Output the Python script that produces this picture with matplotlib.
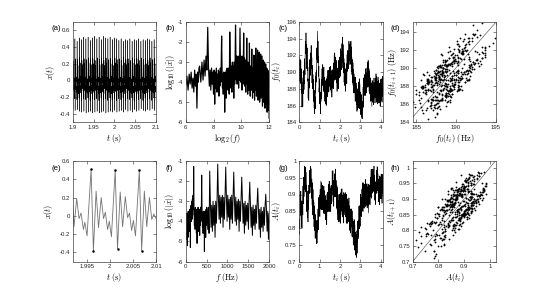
import numpy as np
import matplotlib
matplotlib.use('Agg')
import matplotlib.pyplot as plt
from matplotlib.ticker import FuncFormatter

plt.rcParams['mathtext.fontset'] = 'cm'
plt.rcParams['font.family'] = ['Liberation Sans', 'DejaVu Sans']

# ---------------- data ----------------
# (a) waveform extrema, 38 glottal cycles between 1.9 s and 2.1 s
a_tlim = [1.9, 2.1]
a_x = [
0.48,-0.34,0.24,-0.12,0.19,-0.03,0.03,-0.15,-0.06,-0.22,
0.50,-0.36,0.26,-0.11,0.20,-0.02,0.04,-0.14,-0.07,-0.23,
0.47,-0.35,0.25,-0.13,0.18,-0.04,0.02,-0.16,-0.05,-0.21,
0.51,-0.37,0.27,-0.12,0.21,-0.03,0.05,-0.15,-0.06,-0.24,
0.49,-0.38,0.24,-0.10,0.19,-0.01,0.03,-0.13,-0.08,-0.22,
0.52,-0.37,0.26,-0.12,0.20,-0.03,0.04,-0.16,-0.06,-0.23,
0.50,-0.39,0.25,-0.14,0.18,-0.05,0.02,-0.15,-0.05,-0.21,
0.52,-0.38,0.27,-0.11,0.21,-0.02,0.05,-0.14,-0.07,-0.24,
0.48,-0.37,0.25,-0.12,0.19,-0.03,0.03,-0.16,-0.06,-0.22,
0.51,-0.39,0.26,-0.13,0.20,-0.04,0.04,-0.15,-0.05,-0.23,
0.53,-0.38,0.24,-0.12,0.18,-0.03,0.02,-0.14,-0.06,-0.22,
0.50,-0.37,0.27,-0.11,0.21,-0.02,0.04,-0.16,-0.07,-0.24,
0.52,-0.39,0.25,-0.13,0.19,-0.04,0.03,-0.15,-0.05,-0.21,
0.49,-0.38,0.26,-0.12,0.20,-0.03,0.05,-0.14,-0.06,-0.23,
0.53,-0.37,0.24,-0.10,0.18,-0.01,0.03,-0.16,-0.08,-0.22,
0.51,-0.39,0.27,-0.12,0.21,-0.03,0.04,-0.15,-0.06,-0.24,
0.50,-0.38,0.25,-0.14,0.19,-0.05,0.02,-0.14,-0.05,-0.21,
0.52,-0.37,0.26,-0.11,0.20,-0.02,0.05,-0.16,-0.07,-0.23,
0.49,-0.38,0.24,-0.12,0.18,-0.03,0.03,-0.15,-0.06,-0.22,
0.51,-0.36,0.27,-0.13,0.21,-0.04,0.04,-0.14,-0.05,-0.24,
0.50,-0.38,0.25,-0.12,0.19,-0.03,0.02,-0.16,-0.06,-0.22,
0.48,-0.37,0.26,-0.11,0.20,-0.02,0.04,-0.15,-0.07,-0.23,
0.50,-0.36,0.24,-0.13,0.18,-0.04,0.03,-0.14,-0.05,-0.21,
0.47,-0.38,0.27,-0.12,0.21,-0.03,0.05,-0.16,-0.06,-0.24,
0.49,-0.35,0.25,-0.10,0.19,-0.01,0.03,-0.15,-0.08,-0.22,
0.48,-0.37,0.26,-0.12,0.20,-0.03,0.04,-0.14,-0.06,-0.23,
0.50,-0.36,0.24,-0.14,0.18,-0.05,0.02,-0.16,-0.05,-0.21,
0.47,-0.38,0.27,-0.11,0.21,-0.02,0.05,-0.15,-0.07,-0.24,
0.49,-0.35,0.25,-0.12,0.19,-0.03,0.03,-0.14,-0.06,-0.22,
0.48,-0.37,0.26,-0.13,0.20,-0.04,0.04,-0.16,-0.05,-0.23,
0.50,-0.36,0.24,-0.12,0.18,-0.03,0.02,-0.15,-0.06,-0.22,
0.47,-0.34,0.27,-0.11,0.21,-0.02,0.04,-0.14,-0.07,-0.24,
0.49,-0.36,0.25,-0.13,0.19,-0.04,0.03,-0.16,-0.05,-0.21,
0.48,-0.37,0.26,-0.12,0.20,-0.03,0.05,-0.15,-0.06,-0.23,
0.50,-0.35,0.24,-0.10,0.18,-0.01,0.03,-0.14,-0.08,-0.22,
0.49,-0.36,0.27,-0.12,0.21,-0.03,0.04,-0.16,-0.06,-0.24,
0.47,-0.34,0.25,-0.14,0.19,-0.05,0.02,-0.15,-0.05,-0.21,
0.49,-0.36,0.26,-0.11,0.20,-0.02,0.05,-0.14,-0.07,-0.23,
]

# (e) zoomed waveform (time in s, amplitude)
e_t = [1.99200,1.99228,1.99286,1.99337,1.99380,1.99431,1.99462,1.99510,
       1.99597,1.99647,1.99705,1.99757,1.99815,1.99865,1.99905,1.99952,1.99990,2.00035,
       2.00117,2.00167,2.00225,2.00277,2.00335,2.00385,2.00425,2.00472,2.00510,2.00555,
       2.00638,2.00688,2.00746,2.00798,2.00856,2.00906,2.00950,2.01000]
e_x = [0.12,-0.12,0.19,-0.03,0.03,-0.15,-0.07,-0.22,
       0.51,-0.38,0.27,-0.13,0.20,-0.03,0.04,-0.15,-0.06,-0.23,
       0.50,-0.36,0.26,-0.12,0.21,-0.02,0.03,-0.16,-0.05,-0.22,
       0.50,-0.38,0.27,-0.12,0.20,-0.04,0.02,-0.03]
e_marked = [8, 9, 18, 19, 28, 29]   # cycle maxima / minima

# spectrum: frequency grid sections (start, stop, step in Hz) and log10|x^| values
spec_sections = [(4, 124, 4), (128, 504, 8), (512, 2032, 16), (2048, 4096, 64)]
spec_db_1 = [-3.9,-4.6,-3.6,-4.4,-3.8,-4.9,-3.7,-4.3,-3.9,-5.2,-3.6,-4.5,-3.8,-4.8,-3.5,-4.2,
             -3.7,-4.4,-3.6,-4.1,-3.5,-4.3,-3.8,-4.5,-3.4,-4.2,-3.6,-5.3,-3.5,-4.0,-3.3]
spec_db_2 = [-3.2,-4.0,-3.0,-3.9,-2.9,-3.7,-2.7,-3.4,-1.27,-3.3,-4.2,-3.4,-4.4,-3.3,-4.1,-3.5,
             -4.6,-3.4,-5.1,-3.5,-4.3,-3.3,-4.5,-3.6,-4.2,-3.4,-4.7,-3.5,-4.2,-3.3,-4.0,-3.1,
             -1.7,-3.3,-4.3,-3.6,-4.6,-3.5,-4.4,-3.7,-5.5,-3.5,-4.3,-3.6,-4.8,-3.4,-4.2,-3.3]
spec_db_3 = [-3.4,-4.4,-3.3,-4.6,-1.5,-3.1,-4.3,-3.2,-4.5,-3.0,-4.2,-3.2,-4.8,-3.0,-4.1,-2.9,
             -1.15,-2.8,-3.9,-2.7,-4.1,-2.8,-3.8,-2.7,-4.3,-2.8,-3.9,-2.7,-1.3,-2.8,-4.0,-2.7,
             -3.8,-2.9,-4.4,-2.8,-3.9,-2.7,-4.1,-2.8,-1.55,-2.9,-4.0,-2.8,-4.2,-3.0,-3.9,-2.9,
             -4.5,-3.0,-4.0,-2.9,-1.8,-3.0,-4.1,-3.1,-4.6,-3.0,-4.2,-3.2,-4.0,-3.1,-4.4,-3.0,
             -2.05,-3.2,-4.3,-3.3,-4.7,-3.2,-4.2,-3.4,-4.4,-3.2,-4.1,-3.1,-2.35,-3.3,-4.4,-3.4,
             -4.8,-3.3,-4.3,-3.5,-4.5,-3.3,-4.2,-3.2,-2.65,-3.4,-4.5,-3.5,-4.9,-3.6,-4.4,-3.5]
spec_db_4 = [-3.4,-2.3,-4.7,-3.3,-2.4,-4.9,-3.5,-2.5,-5.0,-3.6,-2.6,-4.8,-3.7,-2.7,-5.2,-3.6,
             -2.9,-5.0,-3.8,-3.0,-5.3,-3.9,-3.1,-5.1,-4.0,-3.3,-5.5,-4.1,-3.4,-5.4,-4.2,-3.5,-5.8]

# (c)/(g) per-cycle fundamental frequency and amplitude, 0 .. 4.1 s
t_span = [0.0, 4.1]
f0_hz = [
191.8,190.0,190.7,188.9,190.9,191.5,189.4,188.8,189.9,191.4,
188.6,190.4,187.5,188.9,187.9,188.8,185.8,187.9,187.2,185.9,
187.3,185.9,189.3,187.5,189.0,187.4,188.9,190.2,187.9,189.0,
188.6,190.9,191.6,190.3,189.7,192.1,193.7,192.3,193.6,192.2,
194.7,192.7,191.7,193.3,192.3,190.4,192.0,192.9,190.2,190.3,
191.2,188.9,189.2,186.9,188.5,188.8,186.8,186.6,188.4,190.6,
189.5,188.1,191.5,189.7,191.2,189.6,191.1,192.3,189.9,191.0,
191.0,193.2,190.4,191.8,190.8,191.7,188.7,190.8,190.0,188.6,
188.0,189.6,189.7,187.7,186.5,188.2,189.1,187.1,187.7,185.7,
187.8,185.8,185.0,187.1,186.8,185.6,187.9,189.5,187.5,188.4,
190.0,188.8,190.2,189.0,191.7,192.9,191.5,191.5,193.3,194.9,
193.3,191.1,193.7,191.2,191.9,189.5,190.2,190.7,187.6,188.1,
187.5,189.2,186.2,187.5,186.5,187.6,185.0,187.6,187.3,186.5,
186.5,188.6,189.1,187.6,186.8,189.0,190.4,188.9,189.9,188.4,
190.9,189.3,188.5,190.3,189.4,187.7,189.5,190.6,188.0,188.4,
189.4,187.6,188.3,186.5,188.5,189.0,186.9,186.2,187.3,188.9,
187.5,186.0,189.2,187.4,188.8,187.0,188.4,189.5,187.1,188.1,
188.0,190.2,187.7,189.5,188.9,190.2,187.6,190.1,189.7,188.6,
188.3,190.3,190.6,188.8,187.7,189.6,190.7,188.9,189.7,187.9,
190.2,188.4,187.6,189.4,188.6,187.0,189.0,190.3,188.1,188.8,
190.2,188.6,189.6,188.0,190.3,191.1,189.3,188.9,190.3,192.1,
190.6,189.1,192.3,190.4,191.7,189.8,190.9,191.8,189.1,189.8,
189.4,191.4,188.7,190.3,189.4,190.5,187.7,190.0,189.5,188.3,
188.1,190.1,190.5,188.9,188.0,190.1,191.4,189.8,190.8,189.3,
191.8,190.2,189.6,191.6,191.0,189.5,191.5,192.8,190.5,191.1,
192.5,190.9,191.9,190.3,192.6,193.4,191.6,191.2,192.6,194.2,
192.4,190.5,193.3,191.1,192.0,189.9,190.8,191.6,188.8,189.5,
189.1,191.1,188.4,190.0,189.2,190.4,187.7,190.2,189.8,188.8,
188.6,190.6,191.0,189.5,188.6,190.8,192.1,190.6,191.6,190.1,
192.6,191.0,190.4,192.4,191.9,190.4,192.4,193.7,191.4,192.0,
193.3,191.7,192.6,190.9,193.0,193.6,191.6,191.0,192.2,193.7,
192.0,190.1,193.0,190.8,191.8,189.7,190.7,191.5,188.7,189.5,
189.1,191.1,188.4,190.0,189.2,190.3,187.5,189.8,189.2,188.0,
187.5,189.3,189.4,187.6,186.5,188.3,189.4,187.6,188.3,186.5,
188.7,186.9,186.1,187.9,187.1,185.3,187.0,188.0,185.5,186.1,
187.6,186.1,187.2,185.7,188.0,188.8,187.0,186.5,187.7,189.2,
187.4,185.6,188.6,186.5,187.6,185.6,186.7,187.6,184.9,185.7,
185.3,187.3,184.6,186.2,185.4,186.5,184.4,186.5,186.3,185.6,
185.7,187.8,188.2,186.7,185.8,188.0,189.3,187.8,188.8,187.2,
189.7,188.1,187.4,189.4,188.7,187.2,189.1,190.4,188.0,188.6,
189.9,188.2,189.2,187.5,189.8,190.5,188.7,188.2,189.6,191.2,
189.7,188.2,191.4,189.3,190.4,188.4,189.5,190.4,187.7,188.5,
188.1,190.1,187.4,189.0,188.2,189.3,186.5,188.8,188.2,187.0,
186.6,188.4,188.7,186.9,185.9,187.8,189.0,187.2,188.1,186.4,
188.8,187.1,186.5,188.4,187.7,186.1,188.1,189.3,186.9,187.4,
188.7,187.0,187.9,186.3,188.5,189.2,187.4,186.9,188.2,189.8,
188.1,186.4,189.5,187.5,188.7,186.8,187.9,188.9,186.2,187.1,
187.3,189.4,186.8,188.5,187.8,189.0,186.3,188.7,188.2,187.1,
186.4,188.3,188.6,186.9,185.9,187.9,189.1,187.4,188.3,186.6,
189.2,187.5,186.8,188.7,188.0,186.4,188.3,189.5,187.1,187.6,
]

amp = [
0.787,0.782,0.825,0.799,0.873,0.901,0.856,0.843,0.874,0.910,
0.837,0.881,0.803,0.844,0.825,0.862,0.800,0.873,0.865,0.842,
0.879,0.839,0.925,0.876,0.913,0.873,0.915,0.952,0.894,0.926,
0.918,0.978,0.985,0.947,0.915,0.964,0.982,0.940,0.958,0.908,
0.966,0.916,0.888,0.928,0.900,0.849,0.889,0.910,0.842,0.850,
0.832,0.881,0.818,0.874,0.865,0.912,0.855,0.928,0.925,0.907,
0.903,0.958,0.972,0.932,0.905,0.959,0.984,0.950,0.968,0.923,
0.977,0.927,0.945,0.889,0.938,0.946,0.886,0.868,0.899,0.935,
0.889,0.839,0.915,0.856,0.883,0.828,0.855,0.877,0.804,0.821,
0.866,0.816,0.793,0.838,0.815,0.769,0.814,0.840,0.772,0.785,
0.772,0.821,0.753,0.804,0.785,0.822,0.755,0.823,0.815,0.792,
0.788,0.843,0.857,0.817,0.795,0.854,0.891,0.850,0.878,0.838,
0.897,0.852,0.880,0.834,0.898,0.916,0.871,0.858,0.899,0.940,
0.899,0.854,0.935,0.881,0.918,0.868,0.900,0.927,0.854,0.876,
0.926,0.881,0.858,0.908,0.890,0.844,0.894,0.925,0.862,0.875,
0.862,0.911,0.843,0.889,0.865,0.897,0.825,0.883,0.870,0.842,
0.828,0.878,0.882,0.837,0.810,0.869,0.901,0.860,0.888,0.848,
0.907,0.867,0.895,0.849,0.913,0.931,0.881,0.868,0.899,0.940,
0.899,0.849,0.930,0.871,0.903,0.853,0.885,0.917,0.849,0.876,
0.926,0.886,0.873,0.928,0.915,0.879,0.934,0.970,0.912,0.930,
0.917,0.971,0.898,0.939,0.915,0.942,0.865,0.928,0.920,0.897,
0.893,0.948,0.962,0.922,0.895,0.949,0.976,0.925,0.943,0.893,
0.942,0.892,0.910,0.859,0.913,0.926,0.871,0.853,0.884,0.920,
0.874,0.824,0.900,0.841,0.868,0.818,0.850,0.882,0.819,0.846,
0.901,0.856,0.833,0.878,0.855,0.814,0.869,0.905,0.847,0.865,
0.857,0.916,0.853,0.904,0.885,0.917,0.840,0.898,0.880,0.847,
0.833,0.883,0.887,0.842,0.815,0.874,0.906,0.865,0.888,0.848,
0.902,0.862,0.885,0.839,0.893,0.906,0.851,0.833,0.864,0.900,
0.859,0.814,0.900,0.846,0.883,0.833,0.865,0.887,0.814,0.831,
0.881,0.836,0.823,0.873,0.860,0.819,0.864,0.890,0.822,0.830,
0.812,0.866,0.793,0.839,0.820,0.857,0.785,0.853,0.840,0.812,
0.803,0.853,0.857,0.807,0.775,0.824,0.851,0.800,0.818,0.773,
0.827,0.777,0.800,0.749,0.808,0.821,0.771,0.753,0.789,0.825,
0.784,0.734,0.810,0.751,0.783,0.733,0.760,0.787,0.719,0.746,
0.732,0.781,0.712,0.769,0.755,0.792,0.725,0.793,0.785,0.762,
0.821,0.781,0.768,0.823,0.810,0.774,0.829,0.865,0.807,0.825,
0.798,0.853,0.867,0.827,0.805,0.864,0.901,0.855,0.883,0.838,
0.892,0.852,0.875,0.834,0.893,0.916,0.866,0.853,0.894,0.935,
0.894,0.849,0.935,0.881,0.913,0.863,0.900,0.927,0.859,0.881,
0.931,0.886,0.873,0.923,0.905,0.864,0.914,0.945,0.877,0.890,
0.877,0.931,0.868,0.914,0.900,0.932,0.860,0.923,0.905,0.877,
0.868,0.913,0.922,0.872,0.845,0.899,0.931,0.890,0.913,0.873,
0.927,0.887,0.910,0.869,0.928,0.951,0.901,0.893,0.929,0.975,
0.934,0.889,0.975,0.921,0.958,0.908,0.940,0.972,0.904,0.926,
0.976,0.931,0.918,0.968,0.950,0.909,0.954,0.985,0.917,0.925,
0.907,0.956,0.883,0.924,0.905,0.937,0.870,0.938,0.930,0.907,
0.903,0.958,0.972,0.927,0.905,0.959,0.983,0.940,0.963,0.913,
0.962,0.912,0.930,0.879,0.933,0.946,0.896,0.878,0.914,0.955,
0.914,0.869,0.955,0.901,0.938,0.888,0.925,0.952,0.889,0.911,
0.961,0.911,0.888,0.933,0.915,0.874,0.929,0.960,0.902,0.915,
]

# axis ticks
ticks_a_x = [1.9, 1.95, 2, 2.05, 2.1];  ticks_a_y = [-0.4, -0.2, 0, 0.2, 0.4, 0.6]
ticks_b_x = [6, 8, 10, 12];             ticks_b_y = [-6, -5, -4, -3, -2, -1]
ticks_c_x = [0, 1, 2, 3, 4];            ticks_c_y = [184, 186, 188, 190, 192, 194, 196]
ticks_d_x = [185, 190, 195];            ticks_d_y = [184, 186, 188, 190, 192, 194]
ticks_e_x = [1.995, 2, 2.005, 2.01]
ticks_f_x = [0, 500, 1000, 1500, 2000]
ticks_g_y = [0.7, 0.75, 0.8, 0.85, 0.9, 0.95, 1]
ticks_h_x = [0.7, 0.8, 0.9, 1]

# ---------------- figure ----------------
W, H = 551, 294
fig = plt.figure(figsize=(W / 100, H / 100), dpi=100)

col_left = [72.7, 185.7, 299.3, 412.7]
ax_w = 83.4
rows = [(22.0, 122.2), (161.0, 261.5)]

fmt = FuncFormatter(lambda v, p: '%g' % (round(v, 6) + 0.0))

def make_ax(col, row):
    top, bot = rows[row]
    l = col_left[col]
    ax = fig.add_axes([l / W, 1 - bot / H, ax_w / W, (bot - top) / H])
    ax.tick_params(direction='in', top=True, right=True, length=2, width=0.4,
                   labelsize=4.3, pad=2, colors='0.15')
    for s in ax.spines.values():
        s.set_linewidth(0.5)
        s.set_color('0.25')
    ax.xaxis.set_major_formatter(fmt)
    ax.yaxis.set_major_formatter(fmt)
    return ax

def labels(ax, xl, yl, letter, ylx, lab_x, row):
    ax.set_xlabel(xl, fontsize=6)
    ax.set_ylabel(yl, fontsize=6)
    ax.yaxis.set_label_coords(ylx, 0.5)
    ax.xaxis.set_label_coords(0.5, -0.095)
    ax.text(lab_x, 0.94 if row == 0 else 0.925, letter, transform=ax.transAxes,
            ha='left', va='center', fontsize=5.6)

# (a)
ax = make_ax(0, 0)
ta = np.linspace(a_tlim[0], a_tlim[1], len(a_x))
ax.plot(ta, a_x, color='k', lw=0.3)
ax.set_xlim(1.9, 2.1); ax.set_ylim(-0.5, 0.7)
ax.set_xticks(ticks_a_x); ax.set_yticks(ticks_a_y)
labels(ax, r'$t\ \mathrm{(s)}$', r'$x(t)$', '(a)', -0.19, -0.255, 0)

# spectrum arrays
spec_freq = np.concatenate([np.arange(a, b + 1, s) for a, b, s in spec_sections])
spec_db = np.array(spec_db_1 + spec_db_2 + spec_db_3 + spec_db_4)

# (b)
ax = make_ax(1, 0)
ax.plot(np.log2(spec_freq), spec_db, color='k', lw=0.85)
ax.set_xlim(6, 12); ax.set_ylim(-6, -1)
ax.set_xticks(ticks_b_x); ax.set_yticks(ticks_b_y)
labels(ax, r'$\log_2(f)$', r'$\log_{10}(|\hat{x}|)$', '(b)', -0.107, -0.245, 0)

# (c)
ti = np.linspace(t_span[0], t_span[1], len(f0_hz))
ax = make_ax(2, 0)
ax.plot(ti, f0_hz, color='k', lw=0.45)
ax.set_xlim(0, 4.1); ax.set_ylim(184, 196)
ax.set_xticks(ticks_c_x); ax.set_yticks(ticks_c_y)
labels(ax, r'$t_i\ \mathrm{(s)}$', r'$f_0(t_i)$', '(c)', -0.19, -0.255, 0)

# (d)
f0 = np.array(f0_hz)
ax = make_ax(3, 0)
ax.plot([184, 196], [184, 196], color='0.35', lw=0.45)
ax.plot(f0[:-1], f0[1:], 'o', color='k', ms=1.3, mew=0)
ax.set_xlim(184.55, 195.05); ax.set_ylim(184, 195.05)
ax.set_xticks(ticks_d_x); ax.set_yticks(ticks_d_y)
labels(ax, r'$f_0(t_i)\ \mathrm{(Hz)}$', r'$f_0(t_{i+1})\ \mathrm{(Hz)}$', '(d)', -0.17, -0.27, 0)

# (e)
ax = make_ax(0, 1)
ax.plot(e_t, e_x, color='0.45', lw=0.6)
ax.plot(np.array(e_t)[e_marked], np.array(e_x)[e_marked], 'o', color='k', ms=1.8, mew=0)
ax.set_xlim(1.992, 2.010); ax.set_ylim(-0.5, 0.6)
ax.set_xticks(ticks_e_x); ax.set_yticks(ticks_a_y)
labels(ax, r'$t\ \mathrm{(s)}$', r'$x(t)$', '(e)', -0.21, -0.255, 1)

# (f)
ax = make_ax(1, 1)
ax.plot(spec_freq, spec_db, color='k', lw=0.7)
ax.set_xlim(0, 2000); ax.set_ylim(-6, -1)
ax.set_xticks(ticks_f_x); ax.set_yticks(ticks_b_y)
labels(ax, r'$f\ \mathrm{(Hz)}$', r'$\log_{10}(|\hat{x}|)$', '(f)', -0.114, -0.245, 1)

# (g)
ax = make_ax(2, 1)
ax.plot(ti, amp, color='k', lw=0.45)
ax.set_xlim(0, 4.1); ax.set_ylim(0.7, 1.0)
ax.set_xticks(ticks_c_x); ax.set_yticks(ticks_g_y)
labels(ax, r'$t_i\ \mathrm{(s)}$', r'$A(t_i)$', '(g)', -0.19, -0.255, 1)

# (h)
A = np.array(amp)
ax = make_ax(3, 1)
ax.plot([0.7, 1.03], [0.7, 1.03], color='0.35', lw=0.45)
ax.plot(A[:-1], A[1:], 'o', color='k', ms=1.3, mew=0)
ax.set_xlim(0.7, 1.024); ax.set_ylim(0.7, 1.021)
ax.set_xticks(ticks_h_x); ax.set_yticks(ticks_g_y)
labels(ax, r'$A(t_i)$', r'$A(t_{i+1})$', '(h)', -0.175, -0.27, 1)

fig.savefig('out.png', dpi=100)
